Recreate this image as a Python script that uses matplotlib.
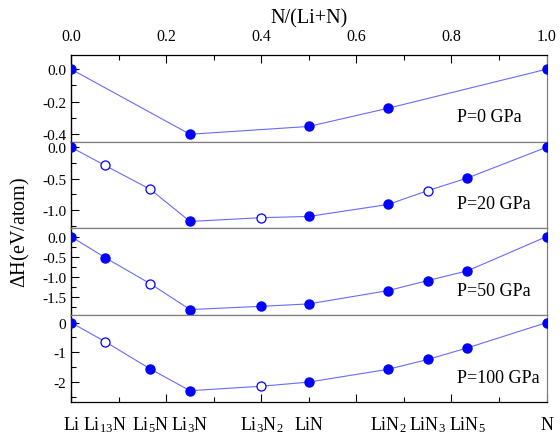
import matplotlib
matplotlib.use("Agg")
import matplotlib.pyplot as plt
from matplotlib.ticker import MultipleLocator
import numpy as np

plt.rcParams['font.family'] = ['Liberation Serif', 'DejaVu Serif']
plt.rcParams['mathtext.fontset'] = 'custom'
plt.rcParams['mathtext.rm'] = 'Liberation Serif'
plt.rcParams['mathtext.it'] = 'Liberation Serif'

# compositions N/(Li+N)
compounds = ['Li', 'Li$_{13}$N', 'Li$_5$N', 'Li$_3$N', 'Li$_3$N$_2$', 'LiN',
             'LiN$_2$', 'LiN$_3$', 'LiN$_5$', 'N']
comp_x = [0.0, 1/14, 1/6, 0.25, 0.4, 0.5, 2/3, 0.75, 5/6, 1.0]

pressures = ['P=0 GPa', 'P=20 GPa', 'P=50 GPa', 'P=100 GPa']

# formation enthalpy (eV/atom); None = not shown
dh_0 = [0.0, None, None, -0.40, None, -0.352, -0.24, None, None, 0.0]
dh_20 = [0.0, -0.29, -0.67, -1.18, -1.12, -1.10, -0.91, -0.69, -0.49, 0.0]
dh_50 = [0.0, -0.52, -1.17, -1.81, -1.73, -1.67, -1.34, -1.09, -0.85, 0.0]
dh_100 = [0.0, -0.64, -1.56, -2.29, -2.14, -2.0, -1.57, -1.24, -0.85, 0.0]

# stable (filled) or metastable (open) markers
stable_0 = [1, 0, 0, 1, 0, 1, 1, 0, 0, 1]
stable_20 = [1, 0, 0, 1, 0, 1, 1, 0, 1, 1]
stable_50 = [1, 1, 0, 1, 1, 1, 1, 1, 1, 1]
stable_100 = [1, 0, 1, 1, 0, 1, 1, 1, 1, 1]

all_dh = [dh_0, dh_20, dh_50, dh_100]
all_stable = [stable_0, stable_20, stable_50, stable_100]
ylims = [(-0.445, 0.089), (-1.29, 0.09), (-1.95, 0.205), (-2.67, 0.25)]
ymajor = [0.2, 0.5, 0.5, 1.0]
ylabfmt = ['%.1f', '%.1f', '%.1f', '%d']

fig, axes = plt.subplots(4, 1, figsize=(5.6, 4.39), dpi=100, sharex=True)
fig.subplots_adjust(left=0.127, right=0.976, top=0.873, bottom=0.082, hspace=0)

for i, ax in enumerate(axes):
    xs = [x for x, v in zip(comp_x, all_dh[i]) if v is not None]
    ys = [v for v in all_dh[i] if v is not None]
    st = [s for s, v in zip(all_stable[i], all_dh[i]) if v is not None]
    ax.plot(xs, ys, color='#6a6aff', lw=0.8, zorder=2)
    fx = [x for x, s in zip(xs, st) if s]
    fy = [y for y, s in zip(ys, st) if s]
    ox = [x for x, s in zip(xs, st) if not s]
    oy = [y for y, s in zip(ys, st) if not s]
    ax.plot(fx, fy, 'o', color='#0000ff', ms=6.5, zorder=3)
    ax.plot(ox, oy, 'o', mfc='white', mec='#0000ff', mew=0.9, ms=6.5, zorder=3)

    ax.set_xlim(0, 1)
    ax.set_ylim(*ylims[i])
    ax.yaxis.set_major_locator(MultipleLocator(ymajor[i]))
    ax.yaxis.set_minor_locator(MultipleLocator(ymajor[i] / 2))
    ax.yaxis.set_major_formatter(matplotlib.ticker.FormatStrFormatter(ylabfmt[i]))
    ax.tick_params(axis='y', which='major', direction='in', length=6, width=0.8,
                   labelsize=11, right=False)
    ax.tick_params(axis='y', which='minor', direction='in', length=3.5, width=0.8,
                   right=False)
    ax.text(0.811, 0.285, pressures[i], transform=ax.transAxes, fontsize=13,
            ha='left', va='center')

    for s in ['top', 'bottom', 'right']:
        ax.spines[s].set_color('#808080')
        ax.spines[s].set_linewidth(0.9)
    ax.spines['left'].set_color('black')
    ax.spines['left'].set_linewidth(1.0)
    ax.tick_params(axis='x', which='both', bottom=False, top=False,
                   labelbottom=False, labeltop=False)

# top axis
top = axes[0]
top.spines['top'].set_color('black')
top.xaxis.set_major_locator(MultipleLocator(0.2))
top.xaxis.set_minor_locator(MultipleLocator(0.1))
top.xaxis.set_major_formatter(matplotlib.ticker.FormatStrFormatter('%.1f'))
top.tick_params(axis='x', which='major', top=True, labeltop=True, direction='in',
                length=6, width=0.8, labelsize=11.5, pad=8)
top.tick_params(axis='x', which='minor', top=True, direction='in', length=3.5, width=0.8)
top.xaxis.set_label_position('top')
top.set_xlabel('N/(Li+N)', fontsize=14.5, labelpad=4)

# bottom axis
bot = axes[-1]
bot.spines['bottom'].set_color('black')
bot.tick_params(axis='x', which='major', bottom=True, direction='in', length=6, width=0.8)
bot.tick_params(axis='x', which='minor', bottom=True, direction='in', length=3.5, width=0.8)
for name, x in zip(compounds, comp_x):
    bot.text(x, -0.26, name, transform=bot.get_xaxis_transform(), fontsize=13,
             ha='center', va='center')

fig.text(0.036, 0.47, r'$\Delta$H(eV/atom)', rotation=90, fontsize=14.5,
         ha='center', va='center')

fig.savefig('out.png', dpi=100)
